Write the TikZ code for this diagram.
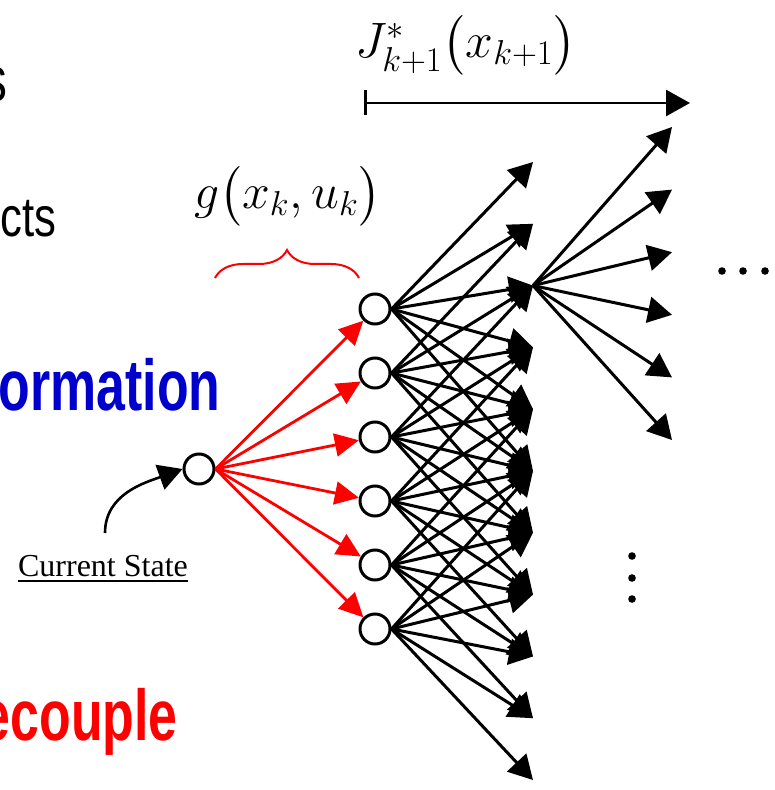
\documentclass[tikz,border=0pt]{standalone}
\usepackage{fontspec}
\usepackage{amsmath}
\setmainfont{Liberation Serif}
\newfontfamily\slidefont[FakeStretch=0.72]{Liberation Sans}
\newfontfamily\slidefontreg[FakeStretch=0.78]{Liberation Sans}
\usetikzlibrary{arrows.meta,positioning,calc,decorations.pathreplacing}
\definecolor{infblue}{RGB}{0,0,204}

\begin{document}
\begin{tikzpicture}[x=0.5pt,y=-0.5pt,>={Triangle[length=12pt,width=13pt]},
  st/.style={draw=black,line width=1.5pt,circle,minimum size=15pt,inner sep=0pt,fill=white},
  ar/.style={->,line width=1.5pt},
  rar/.style={->,draw=red,line width=1.4pt,>={Triangle[length=12pt,width=11.5pt]}},
  dot/.style={circle,fill=black,inner sep=0pt,minimum size=3.8pt},
  sl/.style={anchor=base east,inner sep=0pt,font=\slidefont\bfseries\fontsize{36}{40}\selectfont},
  slr/.style={anchor=base east,inner sep=0pt,font=\slidefontreg\fontsize{28}{32}\selectfont},
  lab/.style={inner sep=0pt,font=\fontsize{25}{28}\selectfont}]
\useasboundingbox (0,0) rectangle (774,790);
% cut-off slide text on the left
\node[slr,font=\slidefontreg\fontsize{32}{36}\selectfont] (txs) at (8,102) {s};
\node[slr] (txcts) at (57,237) {cts};
\node[sl,text=infblue] (txinf) at (221,410) {formation};
\node[sl,text=red] (txdec) at (178,740) {ecouple};
% states
\node[st] (root) at (199,469) {};
\foreach \i in {1,...,6}
  \node[st] (c\i) at (375,{245+64*\i}) {};
\foreach \j in {0,...,10}
  \coordinate (t\j) at (533,{162+61.8*\j});
\foreach \k in {0,...,5}
  \coordinate (s\k) at (672,{127+62.6*\k});
% first stage (red) and next stage (black)
\foreach \i in {1,...,6}
  \draw[rar] (root.east) -- (c\i);
\foreach \i in {1,...,6}
  \foreach \j in {0,...,5}{
    \pgfmathtruncatemacro{\tt}{\i-1+\j}
    \draw[ar] (c\i.east) -- (t\tt);
  }
\foreach \k in {0,...,5}
  \draw[ar] (t2) -- (s\k);
% cost-to-go span
\coordinate (ja) at (364,103);
\coordinate (jb) at (690,103);
\draw[{Bar[width=12.5pt]}->,line width=1.3pt] (ja) -- (jb);
\node[lab] (jlab) at (466,45) {$J^{*}_{k+1}\bigl(x_{k+1}\bigr)$};
% stage cost with brace
\node[lab,font=\fontsize{24}{28}\selectfont] (glab) at (288,196) {$g\bigl(x_k,u_k\bigr)$};
\coordinate (bra) at (215,278);
\coordinate (brb) at (359,278);
\draw[red,line width=1pt,decorate,decoration={brace,amplitude=14pt}] (bra) -- (brb);
% current state
\node[anchor=base,inner sep=0pt,font=\fontsize{16}{18}\selectfont] (cs) at (103,576) {\underline{Current State}};
\coordinate (cstail) at (105,533);
\draw[ar,line width=1.3pt] (cstail) to[out=90,in=200] (root.west);
% dots
\node[dot] (h1) at (722,271) {};
\node[dot] (h2) at (743,271) {};
\node[dot] (h3) at (765,271) {};
\node[dot] (v1) at (632,556) {};
\node[dot] (v2) at (632,578) {};
\node[dot] (v3) at (632,599) {};
\end{tikzpicture}
\end{document}
